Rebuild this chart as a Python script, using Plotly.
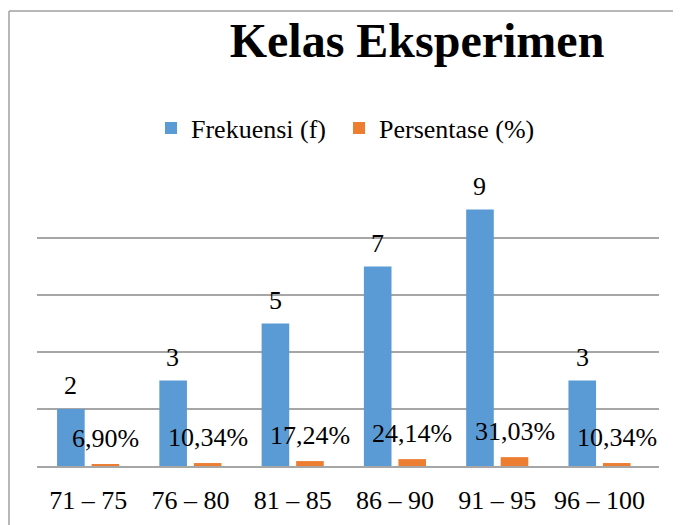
import plotly.graph_objects as go

categories = ["71 – 75", "76 – 80", "81 – 85", "86 – 90", "91 – 95", "96 – 100"]
frekuensi = [2, 3, 5, 7, 9, 3]
persentase = [0.0690, 0.1034, 0.1724, 0.2414, 0.3103, 0.1034]
title_text = "Kelas Eksperimen"
series_names = ["Frekuensi (f)", "Persentase (%)"]

BLUE = "#5b9bd5"
ORANGE = "#ed7d31"
GRID = "#a6a6a6"
FONT = "Liberation Serif"

# the page body has an 8px margin; the figure fills the rest of the window
OFF = 8
W, H = 681 - OFF, 525 - OFF
L = 37 - OFF
T = 181 - OFF
R = W - (659 - OFF)
B = H - (466 - OFF)
plot_w = W - L - R
plot_h = H - T - B

fig = go.Figure()
fig.add_trace(go.Bar(x=categories, y=frekuensi, name=series_names[0], legend="legend",
                     marker=dict(color=BLUE, line=dict(width=0))))
fig.add_trace(go.Bar(x=categories, y=persentase, name=series_names[1], legend="legend2",
                     marker=dict(color=ORANGE, line=dict(width=0))))

bargap = 0.325
bargroupgap = 0.2
slot_px = plot_w / len(categories) * (1 - bargap) / 2

annotations = []
for c, v in zip(categories, frekuensi):
    annotations.append(dict(x=c, y=v, xref="x", yref="y", text=str(v),
                            showarrow=False, xshift=-slot_px / 2, yshift=7,
                            yanchor="bottom", font=dict(family=FONT, size=26, color="black")))
for c, v in zip(categories, persentase):
    txt = f"{v*100:.2f}%".replace(".", ",")
    annotations.append(dict(x=c, y=v, xref="x", yref="y", text=txt,
                            showarrow=False, xshift=slot_px / 2, yshift=9,
                            yanchor="bottom", font=dict(family=FONT, size=26, color="black")))

# chart-area border: only left and top edges fall inside the window
bx = 1.0
by = 11 - OFF
px = lambda v: (v - L) / plot_w
py = lambda v: (H - B - v) / plot_h
BORDER = dict(color="#a0a0a0", width=1.5)
shapes = [
    dict(type="line", xref="paper", yref="paper", x0=px(bx), x1=px(W + 5),
         y0=py(by), y1=py(by), line=BORDER, layer="above"),
    dict(type="line", xref="paper", yref="paper", x0=px(bx), x1=px(bx),
         y0=py(by), y1=py(H + 5), line=BORDER, layer="above"),
]

legend_common = dict(orientation="h", xanchor="left", yanchor="middle",
                     y=py(128 - OFF),
                     font=dict(family=FONT, size=26, color="black"),
                     itemwidth=30, bgcolor="rgba(0,0,0,0)")

fig.update_layout(
    width=W, height=H,
    margin=dict(l=L, r=R, t=T, b=B, autoexpand=False),
    paper_bgcolor="white", plot_bgcolor="white",
    barmode="group", bargap=bargap, bargroupgap=bargroupgap,
    title=dict(text=f"<b>{title_text}</b>", x=(417 - OFF) / W, xanchor="center", xref="container",
               y=1 - (40 - OFF) / H, yanchor="middle", yref="container",
               font=dict(family=FONT, size=48, color="black")),
    legend=dict(legend_common, x=px(151 - OFF)),
    legend2=dict(legend_common, x=px(339 - OFF)),
    font=dict(family=FONT, size=26, color="black"),
    xaxis=dict(showgrid=False, showline=True, linecolor=GRID, linewidth=1.5,
               ticks="", ticklabelstandoff=10,
               tickfont=dict(family=FONT, size=26, color="black"), fixedrange=True),
    yaxis=dict(range=[0, 10], dtick=2, showgrid=True, gridcolor=GRID, gridwidth=1.5,
               showticklabels=False, zeroline=False, showline=False, fixedrange=True),
    annotations=annotations,
    shapes=shapes,
    showlegend=True,
)

fig.write_html(
    "out.html",
    config={"displayModeBar": False},
    post_script="document.documentElement.style.overflow='hidden';document.body.style.overflow='hidden';",
)
